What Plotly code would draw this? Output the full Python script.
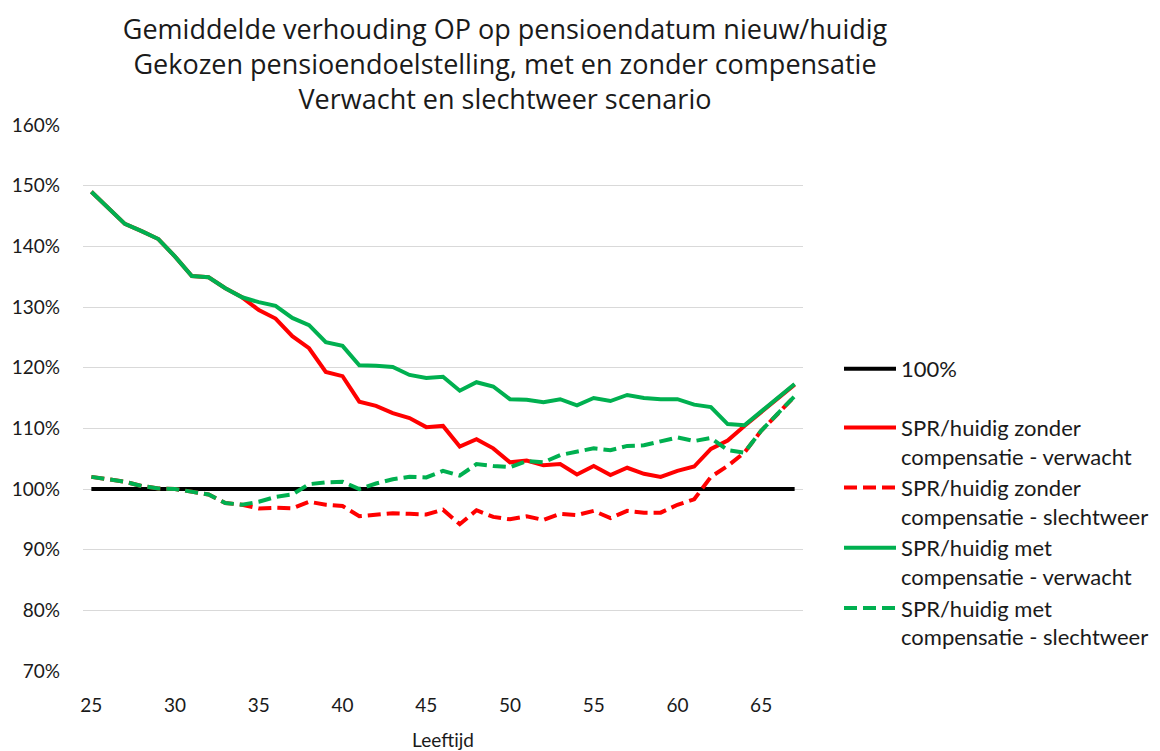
import plotly.graph_objects as go

ages = list(range(25, 68))

ref_100 = [100] * len(ages)

zonder_verwacht = [149.0, 146.4, 143.7, 142.5, 141.2, 138.3, 135.1, 134.9, 133.1, 131.6,
                   129.5, 128.1, 125.2, 123.2, 119.3, 118.6, 114.4, 113.7, 112.5, 111.7,
                   110.2, 110.4, 107.0, 108.2, 106.7, 104.4, 104.7, 103.9, 104.1, 102.4,
                   103.8, 102.3, 103.5, 102.5, 102.0, 103.0, 103.7, 106.6, 108.0, 110.4,
                   112.7, 115.0, 117.2]

zonder_slechtweer = [102.0, 101.6, 101.2, 100.5, 100.1, 100.0, 99.5, 99.1, 97.7, 97.4,
                     96.8, 96.9, 96.8, 97.9, 97.4, 97.2, 95.5, 95.8, 96.0, 95.9,
                     95.8, 96.6, 94.2, 96.5, 95.4, 95.0, 95.5, 94.9, 95.9, 95.7,
                     96.4, 95.2, 96.4, 96.1, 96.1, 97.4, 98.3, 102.0, 103.8, 106.0,
                     109.6, 112.4, 115.3]

met_verwacht = [149.0, 146.4, 143.7, 142.5, 141.2, 138.3, 135.1, 134.9, 133.1, 131.6,
                130.8, 130.2, 128.2, 127.0, 124.2, 123.6, 120.4, 120.3, 120.1, 118.8,
                118.3, 118.5, 116.2, 117.6, 116.9, 114.8, 114.7, 114.3, 114.8, 113.8,
                115.0, 114.5, 115.5, 115.0, 114.8, 114.8, 113.9, 113.5, 110.7, 110.5,
                112.7, 115.0, 117.3]

met_slechtweer = [102.0, 101.6, 101.2, 100.5, 100.1, 100.0, 99.5, 99.1, 97.7, 97.4,
                  97.9, 98.7, 99.1, 100.8, 101.1, 101.2, 100.0, 100.9, 101.6, 102.0,
                  101.9, 103.0, 102.2, 104.1, 103.8, 103.6, 104.6, 104.4, 105.6, 106.2,
                  106.7, 106.4, 107.1, 107.2, 107.8, 108.5, 107.9, 108.4, 106.4, 106.0,
                  109.6, 112.4, 115.3]

x_ticks = [25, 30, 35, 40, 45, 50, 55, 60, 65]
y_ticks = [70, 80, 90, 100, 110, 120, 130, 140, 150, 160]

RED = "#FF0000"
GREEN = "#00B050"
FONT = "Lato"
TXT = "#1a1a1a"
LW = 4
DASH = "13px,6px"

# page body has an 8px margin, so the figure is drawn 8px smaller
W, H = 1152, 743

fig = go.Figure()
fig.add_trace(go.Scatter(x=ages, y=ref_100, mode="lines", name="100%",
                         line=dict(color="black", width=LW), legendgroup="a"))
fig.add_trace(go.Scatter(x=ages, y=zonder_verwacht, mode="lines",
                         name="SPR/huidig zonder<br>compensatie - verwacht",
                         line=dict(color=RED, width=LW), legendgroup="b"))
fig.add_trace(go.Scatter(x=ages, y=zonder_slechtweer, mode="lines",
                         name="SPR/huidig zonder<br>compensatie - slechtweer",
                         line=dict(color=RED, width=LW, dash=DASH), legendgroup="b"))
fig.add_trace(go.Scatter(x=ages, y=met_verwacht, mode="lines",
                         name="SPR/huidig met<br>compensatie - verwacht",
                         line=dict(color=GREEN, width=LW), legendgroup="b"))
fig.add_trace(go.Scatter(x=ages, y=met_slechtweer, mode="lines",
                         name="SPR/huidig met<br>compensatie - slechtweer",
                         line=dict(color=GREEN, width=LW, dash=DASH), legendgroup="b"))

fig.update_layout(
    width=W, height=H,
    margin=dict(l=75, r=W - 795, t=117, b=H - 663),
    paper_bgcolor="white", plot_bgcolor="white",
    font=dict(family=FONT, color=TXT),
    title=dict(
        text="Gemiddelde verhouding OP op pensioendatum nieuw/huidig<br>"
             "Gekozen pensioendoelstelling, met en zonder compensatie<br>"
             "Verwacht en slechtweer scenario",
        x=497 / W, xanchor="center", xref="container",
        y=1 - 31 / H, yanchor="top", yref="container",
        font=dict(family="Open Sans", size=27, color=TXT),
    ),
    xaxis=dict(
        range=[24.5, 67.5], tickvals=x_ticks, ticktext=[str(v) for v in x_ticks],
        showgrid=False, zeroline=False, showline=False, ticks="", automargin=False,
        ticklabelstandoff=21,
        tickfont=dict(family=FONT, size=19, color=TXT),
        title=dict(text="Leeftijd", font=dict(family=FONT, size=19, color=TXT), standoff=18),
    ),
    yaxis=dict(
        range=[70, 160], tickvals=y_ticks, ticktext=[f"{v}%" for v in y_ticks],
        showgrid=True, gridcolor="#D9D9D9", gridwidth=1.3, zeroline=False, showline=False,
        ticks="", ticklabelstandoff=22, automargin=False,
        tickfont=dict(family=FONT, size=19, color=TXT),
    ),
    legend=dict(
        xref="container", yref="container",
        x=831 / W, xanchor="left", y=1 - 340 / H, yanchor="top",
        traceorder="grouped", tracegroupgap=27, valign="top",
        font=dict(family=FONT, size=22, color=TXT),
        itemwidth=52, bgcolor="rgba(0,0,0,0)",
    ),
    showlegend=True,
)

fig.write_html("out.html")
